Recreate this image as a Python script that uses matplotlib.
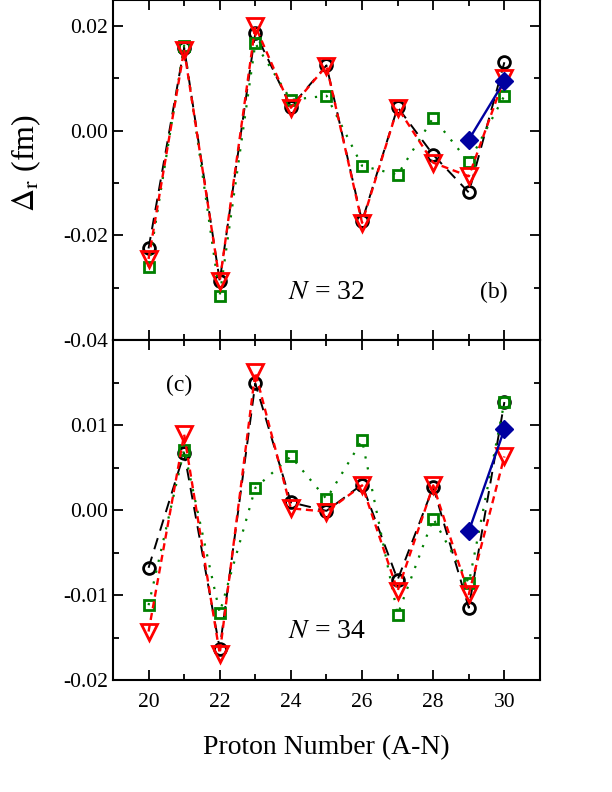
import matplotlib.pyplot as plt
from matplotlib.ticker import MultipleLocator, FixedLocator

plt.rcParams['font.family'] = ['Liberation Serif', 'DejaVu Serif']
plt.rcParams['mathtext.fontset'] = 'stix'

Z = [20, 21, 22, 23, 24, 25, 26, 27, 28, 29, 30]
Z_blue = [29, 30]

# N = 32 panel (b)
b_black = [-0.0225, 0.0159, -0.0287, 0.0187, 0.0046, 0.0125, -0.0173, 0.0045, -0.0046, -0.0118, 0.0131]
b_green = [-0.0260, 0.0163, -0.0315, 0.0167, 0.0059, 0.0067, -0.0067, -0.0084, 0.0025, -0.0060, 0.0067]
b_red = [-0.0245, 0.0155, -0.0288, 0.0200, 0.0044, 0.0124, -0.0176, 0.0044, -0.0061, -0.0087, 0.0101]
b_blue = [-0.0017, 0.0095]

# N = 34 panel (c)
c_black = [-0.0068, 0.0067, -0.0163, 0.0149, 0.0009, -0.0001, 0.0030, -0.0082, 0.0027, -0.0115, 0.0127]
c_green = [-0.0112, 0.0071, -0.0121, 0.0026, 0.0063, 0.0013, 0.0082, -0.0123, -0.0010, -0.0086, 0.0127]
c_red = [-0.0143, 0.0089, -0.0169, 0.0162, 0.0002, -0.0002, 0.0029, -0.0095, 0.0029, -0.0099, 0.0063]
c_blue = [-0.0025, 0.0095]

fig = plt.figure(figsize=(6.12, 7.92), dpi=100)
ax1 = fig.add_axes([0.1846, 0.5707, 0.6977, 0.4293])
ax2 = fig.add_axes([0.1846, 0.1414, 0.6977, 0.4293])


def draw(ax, black, green, red, blue):
    ax.plot(Z, black, color='black', ls=(0, (6, 4)), lw=1.4, marker='o', ms=8.5,
            mfc='none', mec='black', mew=2.0, zorder=2)
    ax.plot(Z, green, color='#008000', ls=(0, (1, 4)), lw=1.6, marker='s', ms=7.5,
            mfc='none', mec='#008000', mew=2.0, zorder=3)
    ax.plot(Z, red, color='red', ls=(0, (3, 2)), lw=1.7, marker='v', ms=11,
            mfc='none', mec='red', mew=2.0, zorder=4)
    ax.plot(Z_blue, blue, color='#0000a0', ls='-', lw=1.7, marker='D', ms=9.5,
            mfc='#0000a0', mec='#0000a0', zorder=5)
    ax.set_xlim(19, 31)
    ax.xaxis.set_major_locator(MultipleLocator(2))
    ax.xaxis.set_minor_locator(MultipleLocator(1))
    ax.tick_params(which='both', direction='in', top=True, right=True, labelsize=15.5)
    ax.tick_params(which='major', length=7, width=1.3)
    ax.tick_params(which='minor', length=4, width=1.3)
    ax.tick_params(axis='x', pad=9)
    for s in ax.spines.values():
        s.set_linewidth(1.5)


draw(ax1, b_black, b_green, b_red, b_blue)
ax1.set_ylim(-0.04, 0.025)
ax1.yaxis.set_major_locator(FixedLocator([-0.04, -0.02, 0.0, 0.02]))
ax1.yaxis.set_minor_locator(MultipleLocator(0.01))
ax1.set_yticklabels(['-0.04', '-0.02', '0.00', '0.02'])
ax1.tick_params(labelbottom=False)
ax1.text(25.0, -0.031, '$N$ = 32', fontsize=20, ha='center', va='center')
ax1.text(29.7, -0.031, '(b)', fontsize=17, ha='center', va='center')
ax1.set_ylabel(r'$\Delta_{\rm r}$ (fm)', fontsize=23)
ax1.yaxis.set_label_coords(-0.163, 0.52)

draw(ax2, c_black, c_green, c_red, c_blue)
ax2.set_ylim(-0.02, 0.02)
ax2.yaxis.set_major_locator(FixedLocator([-0.02, -0.01, 0.0, 0.01]))
ax2.yaxis.set_minor_locator(MultipleLocator(0.005))
ax2.set_yticklabels(['-0.02', '-0.01', '0.00', '0.01'])
ax2.text(25.0, -0.0143, '$N$ = 34', fontsize=20, ha='center', va='center')
ax2.text(20.85, 0.0146, '(c)', fontsize=17, ha='center', va='center')
ax2.set_xlabel('Proton Number (A-N)', fontsize=20, labelpad=17)

fig.savefig('out.png', dpi=100)
